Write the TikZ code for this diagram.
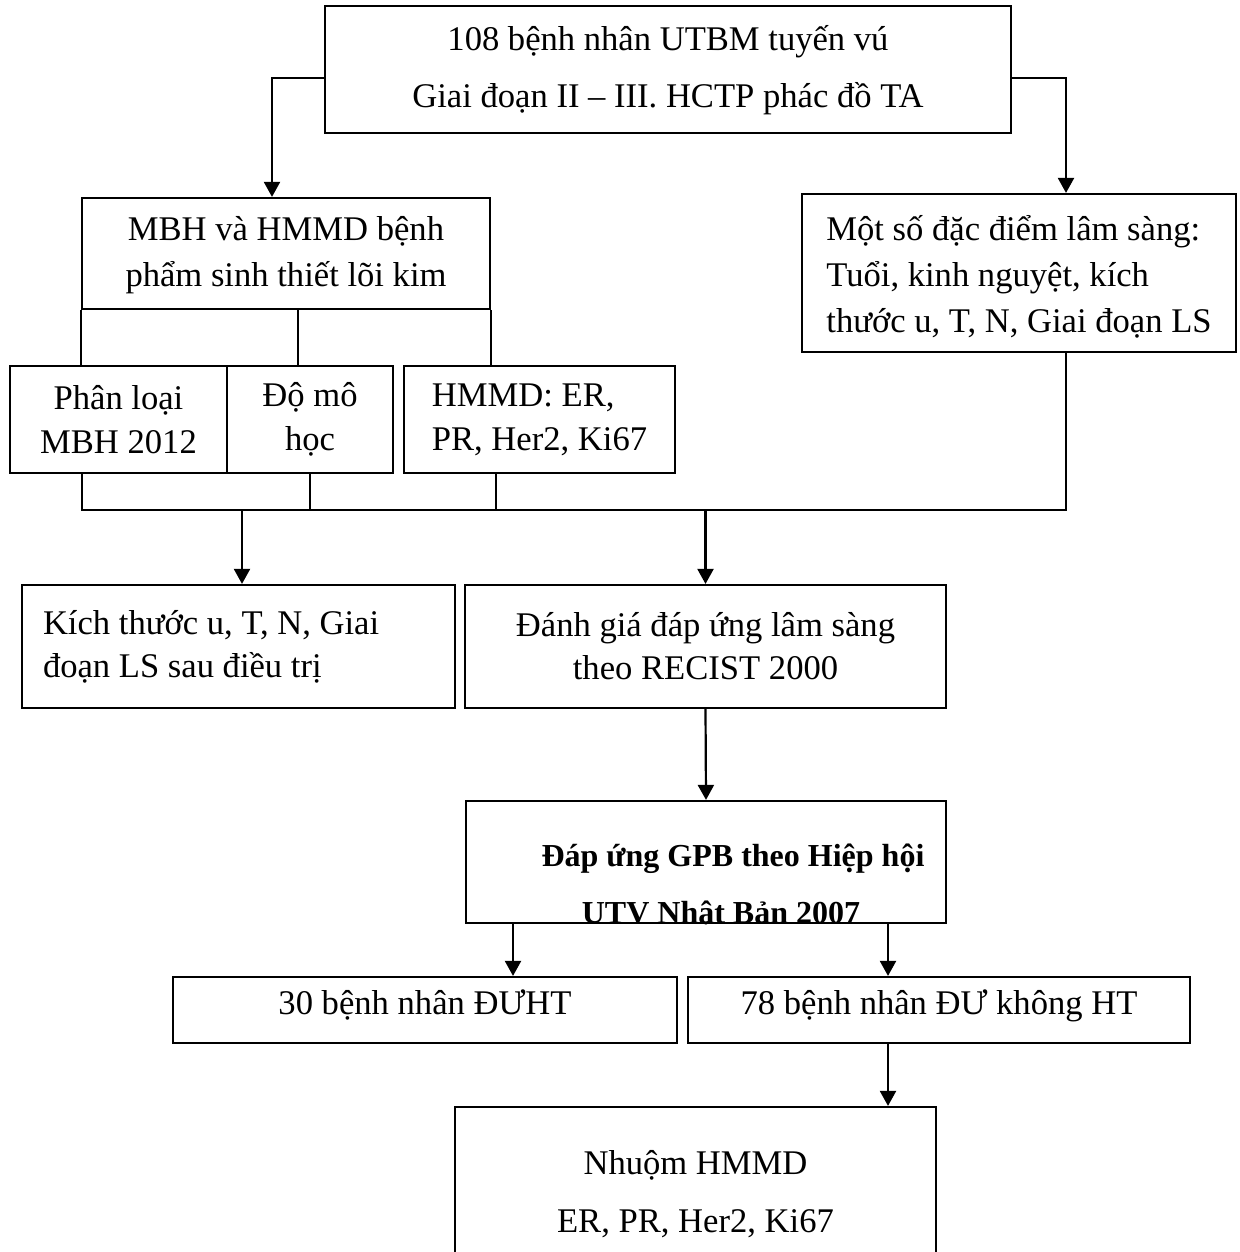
\documentclass[tikz,border=0pt]{standalone}
\usepackage{fontspec}
\setmainfont{Liberation Serif}
\usetikzlibrary{arrows.meta,calc}
\newcommand{\topstrut}[1]{\rule{0pt}{#1}}
\newcommand{\botstrut}[1]{\rule[-#1]{0pt}{0pt}}
\begin{document}
\begin{tikzpicture}[x=0.5pt,y=-0.5pt,
  box/.style={draw,line width=1.1pt,inner sep=0pt,font=\fontsize{17.3}{22}\selectfont},
  arr/.style={line width=1.1pt,-{Triangle[length=7.5pt,width=8pt]}},
  ln/.style={line width=1.1pt}]
\useasboundingbox (0,0) rectangle (1239,1252);

\node[box,minimum width=343pt,minimum height=63.5pt,align=center,font=\fontsize{17.3}{28.5}\selectfont] (top) at (668,69.5) {\topstrut{20pt}108 bệnh nhân UTBM tuyến vú\\Giai đoạn II – III. HCTP phác đồ TA\botstrut{10pt}};

\node[box,minimum width=204pt,minimum height=55.5pt,align=center,font=\fontsize{17.3}{23}\selectfont] (mbh) at (286,253.5) {\topstrut{19.5pt}MBH và HMMD bệnh\\phẩm sinh thiết lõi kim\botstrut{10pt}};

\node[box,minimum width=217pt,minimum height=75pt,align=flush left,font=\fontsize{17.3}{23}\selectfont] (rt) at (1019,273) {\topstrut{23pt}Một số đặc điểm lâm sàng:\\Tuổi, kinh nguyệt, kích\\thước u, T, N, Giai đoạn LS\botstrut{10pt}};

\node[box,minimum width=108.5pt,minimum height=53.5pt,align=center] (pl) at (118.5,419.5) {Phân loại\\MBH 2012};
\node[box,minimum width=83pt,minimum height=53.5pt,align=center] (do) at (310,419.5) {Độ mô\\học};
\node[box,minimum width=135.5pt,minimum height=53.5pt,align=flush left] (hm) at (539.5,419.5) {HMMD: ER,\\PR, Her2, Ki67};

\node[box,minimum width=216.5pt,minimum height=61.5pt,text width=195.5pt,align=flush left,font=\fontsize{17.3}{21.5}\selectfont] (ki) at (238.5,646.5) {Kích thước u, T, N, Giai\\đoạn LS sau điều trị};
\node[box,minimum width=240.5pt,minimum height=61.5pt,align=center,font=\fontsize{17.3}{21.5}\selectfont] (dg) at (705.5,646.5) {Đánh giá đáp ứng lâm sàng\\theo RECIST 2000};

\node[box,minimum width=240pt,minimum height=61pt] (dap) at (706,862) {};
\begin{scope}
\clip (dap.south west) rectangle (dap.north east);
\node[anchor=base,inner sep=0pt,font=\bfseries\fontsize{16}{20}\selectfont] (dapa) at (733,866) {Đáp ứng GPB theo Hiệp hội};
\node[anchor=base,inner sep=0pt,font=\bfseries\fontsize{16}{20}\selectfont] (dapb) at (721,923) {UTV Nhật Bản 2007};
\end{scope}

\node[box,minimum width=252pt,minimum height=33pt] (h30) at (425,1010) {30 bệnh nhân ĐƯHT\botstrut{8pt}};
\node[box,minimum width=251pt,minimum height=33pt] (h78) at (939,1010) {78 bệnh nhân ĐƯ không HT\botstrut{8pt}};

\node[box,minimum width=240.5pt,minimum height=87pt,align=center,font=\fontsize{17.3}{29}\selectfont] (nh) at (695.5,1194) {Nhuộm HMMD\\ER, PR, Her2, Ki67};

% connectors
\draw[arr] (top.west |- 0,78) -| (mbh.north -| 272,0);
\draw[arr] (top.east |- 0,78) -| (rt.north -| 1066,0);

\draw[ln] (mbh.south west) -- (mbh.south west |- pl.north);
\draw[ln] (mbh.south -| 298,0) -- (pl.north -| 298,0);
\draw[ln] (mbh.south east) -- (mbh.south east |- hm.north);

\coordinate (busl) at (82,510);
\coordinate (busr) at (1066,510);
\draw[ln] (pl.south -| busl) -- (busl) -- (busr) -- (rt.south -| busr);
\draw[ln] (do.south) -- (do.south |- busl);
\draw[ln] (hm.south -| 496,0) -- (busl -| 496,0);

\draw[arr] (busl -| 242,0) -- (ki.north -| 242,0);
\draw[arr] (busl -| dg.north) -- (dg.north);
\draw[arr] (dg.south) -- (dap.north);
\draw[arr] (dap.south -| 513,0) -- (h30.north -| 513,0);
\draw[arr] (dap.south -| 888,0) -- (h78.north -| 888,0);
\draw[arr] (h78.south -| 888,0) -- (nh.north -| 888,0);
\end{tikzpicture}
\end{document}
